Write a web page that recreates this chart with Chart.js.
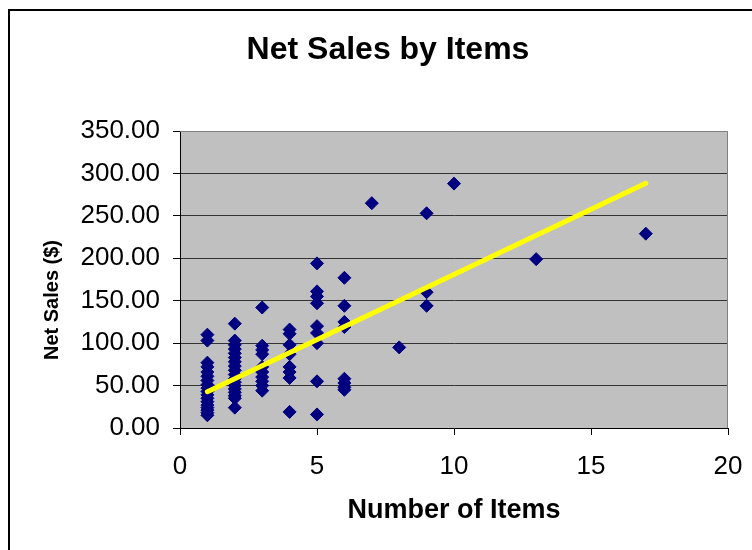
<!DOCTYPE html>
<html>
<head>
<meta charset="utf-8">
<script src="https://cdn.jsdelivr.net/npm/chart.js@4/dist/chart.umd.min.js"></script>
<style>
  html, body { margin: 0; padding: 0; background: #fff; }
  #wrap { width: 752px; height: 550px; }
</style>
</head>
<body>
<div id="wrap"><canvas id="c" width="752" height="550"></canvas></div>
<script>
// Net sales ($) of each order, grouped by number of items in the order
const salesAt1 = [110, 103, 77, 72, 66, 61, 56, 51, 47, 43, 39, 35, 31, 27, 24, 21, 18, 15];
const salesAt2 = [123, 103, 98, 93, 88, 83, 78, 73, 68, 63, 58, 54, 50, 46, 42, 38, 35, 24];
const salesAt3 = [142, 97, 92, 87, 72, 66, 60, 55, 50, 44];
const salesAt4 = [116, 111, 98, 87, 72, 66, 59, 19];
const salesAt5 = [194, 161, 155, 147, 120, 112, 100, 55, 16];
const salesAt6 = [177, 144, 125, 119, 58, 53, 48, 45];
const salesAt7 = [265];
const salesAt8 = [95];
const salesAt9 = [253, 160, 144];
const salesAt10 = [288];
const salesAt13 = [199];
const salesAt17 = [229];

const itemCounts = [1, 2, 3, 4, 5, 6, 7, 8, 9, 10, 13, 17];
const salesGroups = [salesAt1, salesAt2, salesAt3, salesAt4, salesAt5, salesAt6,
                     salesAt7, salesAt8, salesAt9, salesAt10, salesAt13, salesAt17];

// Linear trend line end points (items, $)
const trendItems = [1, 17];
const trendSales = [42.8, 288.4];

const yTicks = [0, 50, 100, 150, 200, 250, 300, 350];
const xTicks = [0, 5, 10, 15, 20];

const chartTitle = 'Net Sales by Items';
const xTitle = 'Number of Items';
const yTitle = 'Net Sales ($)';

const points = [];
itemCounts.forEach((n, i) => salesGroups[i].forEach(v => points.push({ x: n, y: v })));
const trend = trendItems.map((n, i) => ({ x: n, y: trendSales[i] }));

const FONT = "'Liberation Sans', Arial, Helvetica, sans-serif";

const frame = {
  id: 'frame',
  beforeDraw(chart) {
    const { ctx, chartArea: a } = chart;
    ctx.save();
    ctx.fillStyle = '#ffffff';
    ctx.fillRect(0, 0, chart.width, chart.height);
    // outer chart border
    ctx.strokeStyle = '#000';
    ctx.lineWidth = 2;
    ctx.beginPath();
    ctx.moveTo(9, chart.height + 5);
    ctx.lineTo(9, 10);
    ctx.lineTo(chart.width + 5, 10);
    ctx.stroke();
    // plot area fill
    ctx.fillStyle = '#C0C0C0';
    ctx.fillRect(a.left, a.top, a.right - a.left, a.bottom - a.top);
    ctx.restore();
  },
  beforeDatasetsDraw(chart) {
    const { ctx, chartArea: a } = chart;
    ctx.save();
    ctx.strokeStyle = '#808080';
    ctx.lineWidth = 1;
    ctx.beginPath();
    ctx.moveTo(a.left, a.top + 0.5);
    ctx.lineTo(a.right - 0.5, a.top + 0.5);
    ctx.lineTo(a.right - 0.5, a.bottom);
    ctx.stroke();
    ctx.restore();
  },
  afterDraw(chart) {
    const { ctx } = chart;
    ctx.save();
    ctx.fillStyle = '#000';
    ctx.textAlign = 'center';
    ctx.textBaseline = 'middle';
    // chart title
    ctx.font = `bold 32px ${FONT}`;
    ctx.fillText(chartTitle, 388, 50);
    // value axis title
    ctx.translate(52, 300);
    ctx.rotate(-Math.PI / 2);
    ctx.font = `bold 20px ${FONT}`;
    ctx.fillText(yTitle, 0, 0);
    ctx.restore();
  }
};

new Chart(document.getElementById('c'), {
  type: 'scatter',
  data: {
    datasets: [
      {
        label: 'Linear (Net Sales)',
        data: trend,
        showLine: true,
        borderColor: '#FFFF00',
        borderWidth: 5,
        borderCapStyle: 'round',
        pointRadius: 0,
        fill: false
      },
      {
        label: 'Net Sales',
        data: points,
        pointStyle: 'rectRot',
        pointRadius: 6.5,
        pointHoverRadius: 6.5,
        backgroundColor: '#000080',
        borderColor: '#000080',
        borderWidth: 1
      }
    ]
  },
  options: {
    responsive: false,
    animation: false,
    devicePixelRatio: 1,
    layout: { padding: { left: 24, right: 24, top: 131, bottom: 0 } },
    plugins: {
      legend: { display: false },
      tooltip: { enabled: false },
      title: { display: false }
    },
    scales: {
      x: {
        type: 'linear',
        min: 0, max: 20,
        afterFit(s) { s.height = 122; s.paddingLeft = 0; s.paddingRight = 0; },
        afterBuildTicks(s) { s.ticks = xTicks.map(v => ({ value: v })); },
        ticks: {
          color: '#000',
          font: { family: FONT, size: 26 },
          padding: 16,
          callback: v => String(v)
        },
        grid: { drawOnChartArea: false, drawTicks: true, tickLength: 7, tickColor: '#000' },
        border: { display: true, color: '#000', width: 1 },
        title: {
          display: true,
          text: xTitle,
          color: '#000',
          font: { family: FONT, size: 27, weight: 'bold', lineHeight: 1.2 },
          padding: { top: 0, bottom: 23 }
        }
      },
      y: {
        type: 'linear',
        min: 0, max: 350,
        afterFit(s) { s.width = 156; s.paddingTop = 0; s.paddingBottom = 0; },
        afterBuildTicks(s) { s.ticks = yTicks.map(v => ({ value: v })); },
        ticks: {
          color: '#000',
          font: { family: FONT, size: 26 },
          padding: 13,
          callback: v => Number(v).toFixed(2)
        },
        grid: {
          color: c => (c.tick && c.tick.value === 350 ? 'rgba(0,0,0,0)' : '#333333'),
          lineWidth: 1,
          drawTicks: true,
          tickLength: 7,
          tickColor: '#000'
        },
        border: { display: true, color: '#000', width: 1 }
      }
    }
  },
  plugins: [frame]
});
</script>
</body>
</html>
